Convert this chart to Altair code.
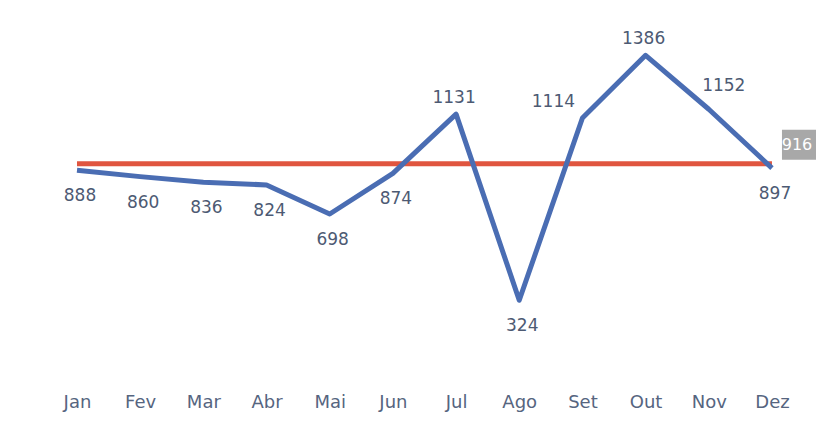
import altair as alt
import pandas as pd

months = ["Jan", "Fev", "Mar", "Abr", "Mai", "Jun", "Jul", "Ago", "Set", "Out", "Nov", "Dez"]
values = [888, 860, 836, 824, 698, 874, 1131, 324, 1114, 1386, 1152, 897]
average = 916
labels_above = ["Jul", "Out"]
labels_above_left = ["Set"]
labels_above_right = ["Nov"]

df = pd.DataFrame({"idx": list(range(len(months))), "month": months, "value": values})
df["pos"] = ["above" if m in labels_above else
             ("aboveleft" if m in labels_above_left else
              ("aboveright" if m in labels_above_right else "below")) for m in months]
avg_df = pd.DataFrame({"idx": [0], "idx2": [len(months) - 1], "avg": [average]})

label_expr = "[" + ",".join(f"'{m}'" for m in months) + "][datum.value]"

xscale = alt.Scale(domain=[-1.092, 11.697], nice=False, zero=False)
yscale = alt.Scale(domain=[0, 1591], nice=False, zero=False)
FONT = "DejaVu Sans"
LABEL_COLOR = "#4d5a73"

x_axis = alt.Axis(values=list(range(len(months))), labelExpr=label_expr, title=None,
                  domain=False, ticks=False, grid=False, labelPadding=18,
                  labelFontSize=18, labelColor="#56657f", labelFont=FONT,
                  labelBaseline="top")
y_enc = alt.Y("value:Q", scale=yscale, axis=None)
x_enc = alt.X("idx:Q", scale=xscale, axis=x_axis)

avg_rule = alt.Chart(avg_df).mark_rule(color="#e0553f", strokeWidth=5).encode(
    x=x_enc,
    x2="idx2:Q",
    y=alt.Y("avg:Q", scale=yscale, axis=None),
)

line = alt.Chart(df).mark_line(color="#4a6db3", strokeWidth=5, strokeJoin="round").encode(
    x=x_enc, y=y_enc
)


def labels(pos, dx, dy):
    return alt.Chart(df).transform_filter(f"datum.pos == '{pos}'").mark_text(
        font=FONT, fontSize=17, color=LABEL_COLOR, dx=dx, dy=dy, baseline="middle"
    ).encode(x=x_enc, y=y_enc, text="value:Q")


txt_below = labels("below", 3, 26)
txt_above = labels("above", -2, -16)
txt_above_left = labels("aboveleft", -29, -16)
txt_above_right = labels("aboveright", 15, -23)

box = alt.Chart(avg_df).mark_point(
    shape="M-1,-0.68L1,-0.68L1,0.68L-1,0.68Z", size=44 * 44, filled=True,
    color="#a8a8a8", opacity=1
).encode(
    x=alt.X("idx2:Q", scale=xscale, axis=x_axis),
    y=alt.Y("avg:Q", scale=yscale, axis=None),
    xOffset=alt.value(32),
    yOffset=alt.value(-19),
)
box_text = alt.Chart(avg_df).mark_text(
    font=FONT, fontSize=16, color="white", dx=25, dy=-19, baseline="middle"
).encode(
    x=alt.X("idx2:Q", scale=xscale, axis=x_axis),
    y=alt.Y("avg:Q", scale=yscale, axis=None),
    text="avg:Q",
)

chart = alt.layer(avg_rule, line, txt_below, txt_above, txt_above_left, txt_above_right,
                  box, box_text).properties(
    width=808, height=367,
    autosize=alt.AutoSizeParams(type="none"),
    padding={"left": 0, "top": 0, "right": 0, "bottom": 37},
    background="white",
).configure_view(stroke=None)

chart.save("out.html", embed_options={"renderer": "svg", "actions": False})
